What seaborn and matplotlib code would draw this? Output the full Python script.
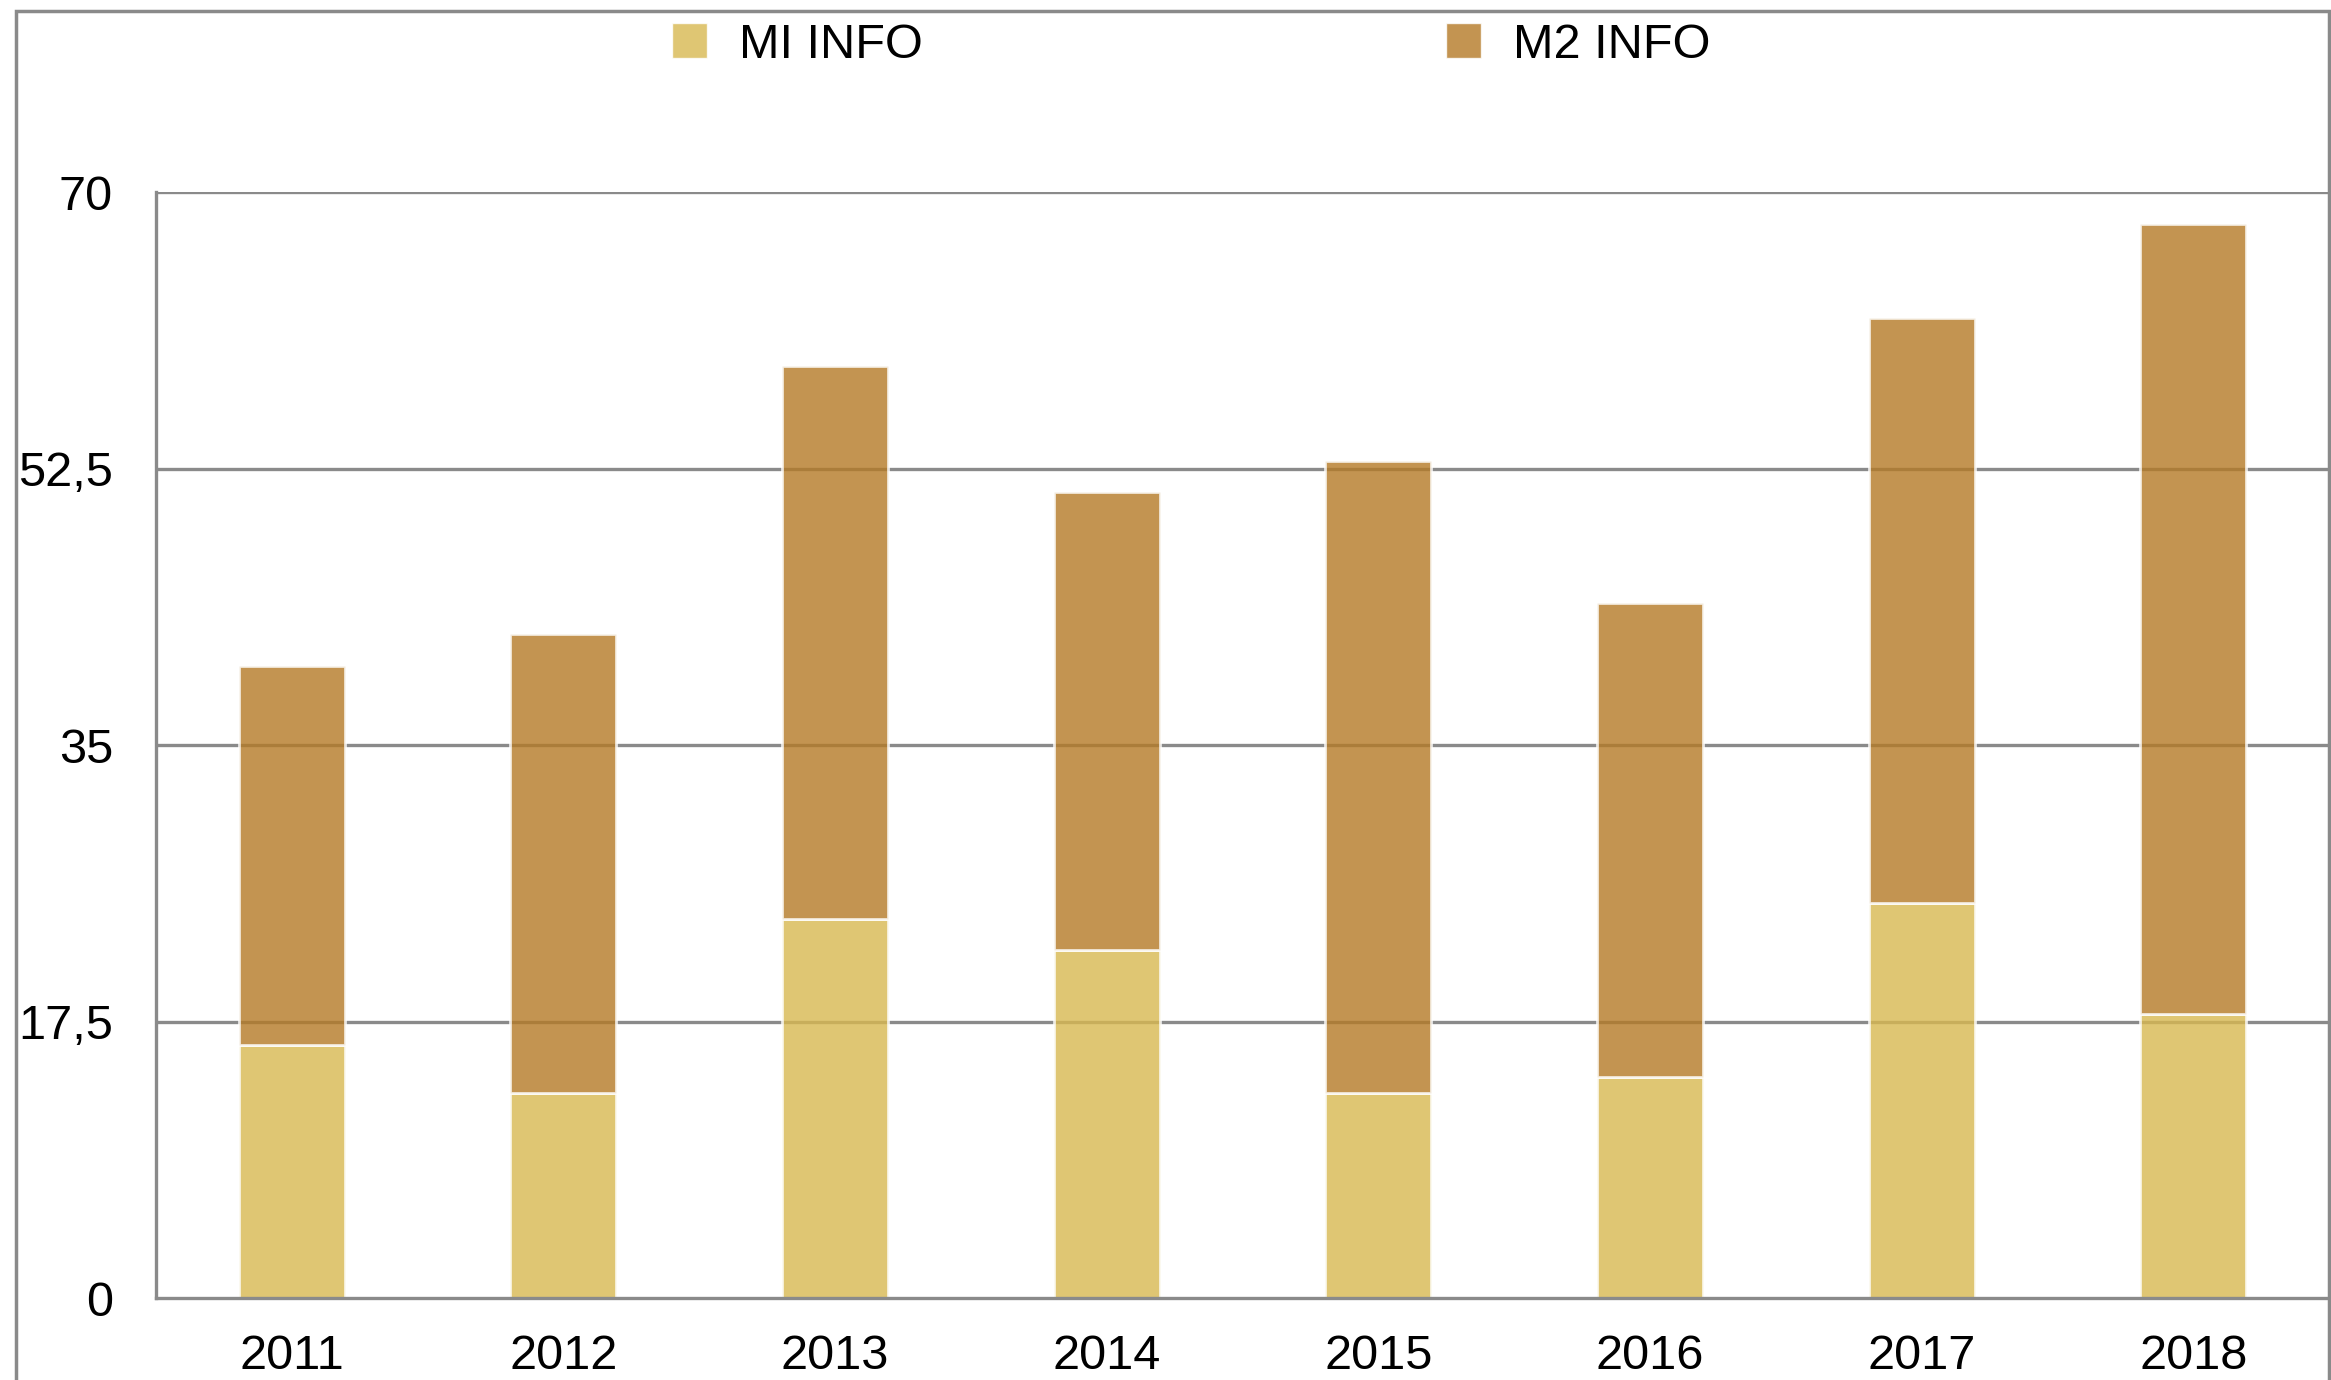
#!/usr/bin/env python3
# -*- coding: utf-8 -*-
"""Barras apiladas MI INFO / M2 INFO por año (2011-2018)."""
import matplotlib
matplotlib.use("Agg")
import matplotlib.pyplot as plt
from matplotlib.patches import Patch, Rectangle
import pandas as pd
import seaborn as sns

YEARS = ["2011", "2012", "2013", "2014", "2015", "2016", "2017", "2018"]
MI_INFO = [16, 13, 24, 22, 13, 14, 25, 18]
M2_INFO = [24, 29, 35, 29, 40, 30, 37, 50]
Y_TICKS = [0, 17.5, 35, 52.5, 70]
Y_LABELS = ["0", "17,5", "35", "52,5", "70"]
SERIES = ["MI INFO", "M2 INFO"]

# colores base (con alpha 0.8 sobre blanco dan el tono del original)
C_MI = "#D8B850"
C_M2 = "#B47A26"
ALPHA = 0.8
GRID = "#8a8a8a"
BAR_W = 0.39

sns.set_style("white")
plt.rcParams["font.family"] = ["Liberation Sans", "DejaVu Sans"]
plt.rcParams["text.color"] = "black"
plt.rcParams["xtick.color"] = "black"
plt.rcParams["ytick.color"] = "black"

df = pd.DataFrame({"year": YEARS, "mi": MI_INFO, "m2": M2_INFO})

W, H = 2331, 1380
fig = plt.figure(figsize=(W / 100, H / 100), dpi=100)
ax = fig.add_axes([156 / W, 1 - 1298 / H, (2329 - 156) / W, (1298 - 192) / H])

# rejilla por debajo de las barras (se transparenta a través de ellas)
for y in Y_TICKS[1:]:
    ax.axhline(y, color=GRID, lw=2.4, zorder=0)

sns.barplot(data=df, x="year", y="mi", color=C_MI, saturation=1, width=BAR_W,
            alpha=ALPHA, edgecolor="white", linewidth=2, ax=ax, zorder=2)
# segunda serie apilada encima de la primera
ax.bar(range(len(YEARS)), df["m2"], bottom=df["mi"], width=BAR_W, color=C_M2,
       alpha=ALPHA, edgecolor="white", linewidth=2, zorder=2)

ax.set_xlim(-0.5, len(YEARS) - 0.5)
ax.set_ylim(0, 70)
ax.set_yticks(Y_TICKS)
ax.set_yticklabels(Y_LABELS)
ax.set_xlabel("")
ax.set_ylabel("")

# marcas del eje x en los límites entre categorías
ax.set_xticks([i + 0.5 for i in range(-1, len(YEARS))], minor=True)
ax.tick_params(axis="x", which="major", length=0, labelsize=35, pad=26,
               labelcolor="black")
ax.tick_params(axis="x", which="minor", length=8, width=2, color=GRID)
ax.tick_params(axis="y", length=8, width=2, color=GRID, labelsize=35, pad=23,
               labelcolor="black")

for side in ["top", "right"]:
    ax.spines[side].set_visible(False)
for side in ["left", "bottom"]:
    ax.spines[side].set_color(GRID)
    ax.spines[side].set_linewidth(2.4)
    ax.spines[side].set_zorder(5)

# marco exterior (recortado por abajo como en el original)
fig.patches.append(Rectangle((16 / W, -0.05), (2329 - 16) / W, 1.05 - 11 / H,
                             transform=fig.transFigure, fill=False,
                             edgecolor=GRID, lw=2.5))

handles = [Patch(facecolor=C_MI, alpha=ALPHA, edgecolor="white"),
           Patch(facecolor=C_M2, alpha=ALPHA, edgecolor="white")]
fig.legend(handles, SERIES, loc="center left", bbox_to_anchor=(672 / W, 1 - 45 / H),
           ncol=2, frameon=False, fontsize=35, handlelength=0.72, handleheight=0.72,
           handletextpad=0.66, columnspacing=10.75, borderpad=0, borderaxespad=0,
           labelcolor="black")

fig.savefig("out.png", dpi=100)
plt.close(fig)
